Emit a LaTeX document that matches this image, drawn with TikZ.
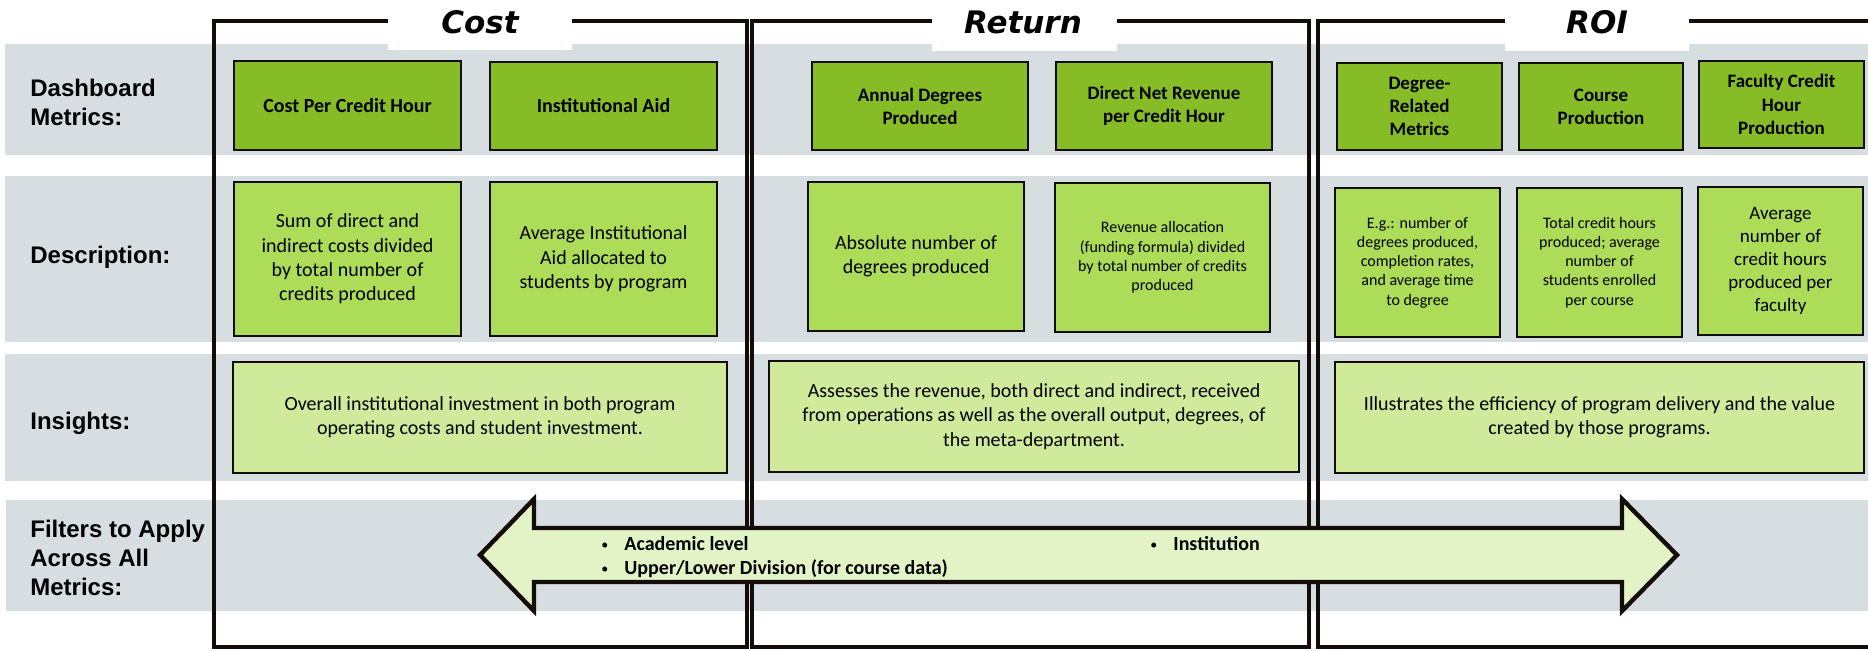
\documentclass[tikz,border=0pt]{standalone}
\usepackage{fontspec}
\setmainfont{Carlito}
\newfontfamily\labfont{Liberation Sans}
\newfontfamily\ttlfont{DejaVu Sans}
\definecolor{bandgray}{HTML}{D6DEE1}
\definecolor{gdark}{HTML}{86BC25}
\definecolor{gmid}{HTML}{ADDC58}
\definecolor{glight}{HTML}{D0EA9C}
\definecolor{arrowfill}{HTML}{E2F3C6}
\definecolor{framec}{HTML}{140C08}
\newcommand\fbul{\makebox[12.5pt][l]{\hspace{1pt}\raisebox{0.6pt}{\normalfont\fontsize{7}{7}\selectfont\textbullet}}}
\begin{document}
\begin{tikzpicture}[x=0.5pt,y=-0.5pt,
  band/.style={fill=bandgray},
  frame/.style={draw=framec,line width=2.3pt},
  boxbase/.style={draw=framec,line width=1pt,align=center,inner sep=0pt},
  metric/.style={boxbase,fill=gdark,font=\bfseries\fontsize{10}{12}\selectfont},
  metricsm/.style={boxbase,fill=gdark,font=\bfseries\fontsize{9.5}{11.6}\selectfont},
  desc/.style={boxbase,fill=gmid,font=\fontsize{10}{12.2}\selectfont},
  descsm/.style={boxbase,fill=gmid,font=\fontsize{8}{9.6}\selectfont},
  descmd/.style={boxbase,fill=gmid,font=\fontsize{9.5}{11.4}\selectfont},
  insight/.style={boxbase,fill=glight,font=\fontsize{10}{12.2}\selectfont},
  rowlabel/.style={anchor=west,align=left,inner sep=0pt,font=\labfont\bfseries\fontsize{12}{14.5}\selectfont},
  coltitle/.style={inner sep=0pt,font=\ttlfont\bfseries\itshape\fontsize{15.5}{18}\selectfont},
  titlebg/.style={fill=white},
  filtertext/.style={inner sep=0pt,align=left,font=\bfseries\fontsize{10}{12}\selectfont},
  bigarrow/.style={draw=framec,line width=2.2pt,fill=arrowfill,line join=miter}
]
\clip (0,0) rectangle (1868,650);
% row bands
\fill[band] (5,44) rectangle (1868,155);
\fill[band] (5,176) rectangle (1868,342);
\fill[band] (5,354) rectangle (1868,481);
\fill[band] (6,500) rectangle (1868,611);
% column frames
\draw[frame] (214,647) -- (214,21) -- (747,21) -- (747,647) -- cycle;
\draw[frame] (752,647) -- (752,21) -- (1309,21) -- (1309,647) -- cycle;
\draw[frame] (1890,21) -- (1318,21) -- (1318,647) -- (1890,647);
% title backgrounds
\fill[titlebg] (388,0) rectangle (572,50);
\fill[titlebg] (932,0) rectangle (1117,51);
\fill[titlebg] (1505,0) rectangle (1689,51);
\node[coltitle] (tcost) at (480,22) {Cost};
\node[coltitle] (tret) at (1023,22) {Return};
\node[coltitle] (troi) at (1597,22) {ROI};
% row labels
\node[rowlabel] (ldash) at (30,102) {Dashboard\\Metrics:};
\node[rowlabel] (ldesc) at (30,257) {Description:};
\node[rowlabel] (lins) at (30,423) {Insights:};
\node[rowlabel] (lfil) at (30,558) {Filters to Apply\\Across All\\Metrics:};
% row 1
\node[metric,minimum width=113.5pt,minimum height=44.5pt] (m1) at (347.5,105.5) {Cost Per Credit Hour};
\node[metric,minimum width=113.5pt,minimum height=44pt] (m2) at (603.5,106) {Institutional Aid};
\node[metricsm,minimum width=108pt,minimum height=44pt] (m3) at (920,106) {Annual Degrees\\Produced};
\node[metricsm,minimum width=108pt,minimum height=44pt] (m4) at (1164,106) {Direct Net Revenue\\per Credit Hour};
\node[metricsm,minimum width=82.5pt,minimum height=43.5pt] (m5) at (1419.5,106.5) {Degree-\\Related\\Metrics};
\node[metricsm,minimum width=82pt,minimum height=43.5pt] (m6) at (1601,106.5) {Course\\Production};
\node[metricsm,minimum width=82.5pt,minimum height=43.5pt] (m7) at (1781.5,104.5) {Faculty Credit\\Hour\\Production};
% row 2
\node[desc,minimum width=113.5pt,minimum height=77pt] (d1) at (347.5,259) {Sum of direct and\\indirect costs divided\\by total number of\\credits produced};
\node[desc,minimum width=113.5pt,minimum height=77pt] (d2) at (603.5,259) {Average Institutional\\Aid allocated to\\students by program};
\node[desc,minimum width=108pt,minimum height=74.5pt] (d3) at (916,256.5) {Absolute number of\\degrees produced};
\node[descsm,minimum width=107.5pt,minimum height=74.5pt] (d4) at (1162.5,257.5) {Revenue allocation\\(funding formula) divided\\by total number of credits\\produced};
\node[descsm,minimum width=82.5pt,minimum height=74.5pt] (d5) at (1417.5,262.5) {E.g.: number of\\degrees produced,\\completion rates,\\and average time\\to degree};
\node[descsm,minimum width=82.5pt,minimum height=74.5pt] (d6) at (1599.5,262.5) {Total credit hours\\produced; average\\number of\\students enrolled\\per course};
\node[descmd,minimum width=82.5pt,minimum height=74pt] (d7) at (1780.5,261) {Average\\number of\\credit hours\\produced per\\faculty};
% row 3
\node[insight,minimum width=247pt,minimum height=55.5pt] (i1) at (480,417.5) {Overall institutional investment in both program\\operating costs and student investment.};
\node[insight,minimum width=265pt,minimum height=55.5pt] (i2) at (1034,416.5) {Assesses the revenue, both direct and indirect, received\\from operations as well as the overall output, degrees, of\\the meta-department.};
\node[insight,minimum width=264.5pt,minimum height=55.5pt] (i3) at (1599.5,417.5) {Illustrates the efficiency of program delivery and the value\\created by those programs.};
% filters double arrow
\draw[bigarrow] (480,555) -- (534,499) -- (534,528) -- (1622,528) -- (1622,499)
  -- (1677,555) -- (1622,611) -- (1622,582) -- (534,582) -- (534,611) -- cycle;
\node[filtertext,anchor=west] (f1) at (599,557) {\fbul Academic level\\\fbul Upper/Lower Division (for course data)};
\node[filtertext,anchor=west] (f2) at (1148,544) {\fbul Institution};
\end{tikzpicture}
\end{document}
